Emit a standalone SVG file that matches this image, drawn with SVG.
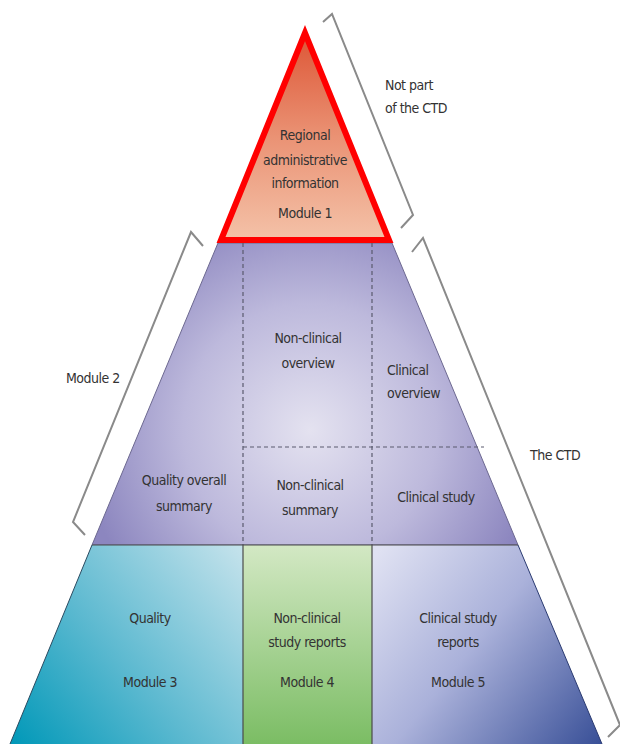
<svg xmlns="http://www.w3.org/2000/svg" width="620" height="744" viewBox="0 0 620 744">
<defs>
<linearGradient id="gRed" x1="0" y1="0" x2="0" y2="1">
<stop offset="0" stop-color="#dd5535"/>
<stop offset="0.5" stop-color="#ea9274"/>
<stop offset="1" stop-color="#f4c2a8"/>
</linearGradient>
<radialGradient id="gPurple" cx="310" cy="430" r="230" gradientUnits="userSpaceOnUse">
<stop offset="0" stop-color="#e4e2f0"/>
<stop offset="0.55" stop-color="#bdb9dc"/>
<stop offset="1" stop-color="#8c86bf"/>
</radialGradient>
<linearGradient id="gTeal" x1="10" y1="744" x2="243" y2="545" gradientUnits="userSpaceOnUse">
<stop offset="0" stop-color="#0098b8"/>
<stop offset="0.45" stop-color="#5cb9d0"/>
<stop offset="1" stop-color="#c6e3ec"/>
</linearGradient>
<linearGradient id="gGreen" x1="0" y1="0" x2="0" y2="1">
<stop offset="0" stop-color="#d3e8c4"/>
<stop offset="1" stop-color="#7bbd64"/>
</linearGradient>
<linearGradient id="gBlue" x1="372" y1="560" x2="602" y2="744" gradientUnits="userSpaceOnUse">
<stop offset="0" stop-color="#dfe1f2"/>
<stop offset="0.45" stop-color="#aab1da"/>
<stop offset="1" stop-color="#384f97"/>
</linearGradient>
<style>
.t{font-family:"Liberation Sans Narrow","DejaVu Sans Condensed","Liberation Sans",sans-serif;font-size:14px;letter-spacing:-0.5px;fill:#333;text-anchor:middle}
.l{text-anchor:start}
.br{fill:none;stroke:#8a8a8a;stroke-width:2;stroke-linejoin:miter}
.dash{stroke:#5a5a6e;stroke-width:1.2;stroke-dasharray:4 3;fill:none}
.div{stroke:#4a4a4a;stroke-width:1.2;fill:none}
</style>
</defs>

<g id="module2">
<polygon points="218,243 392,243 518,545 92,545" fill="url(#gPurple)" stroke="#6c6890" stroke-width="1"/>
<line class="dash" x1="243" y1="243" x2="243" y2="545"/>
<line class="dash" x1="372" y1="243" x2="372" y2="545"/>
<line class="dash" x1="243" y1="447" x2="484" y2="447"/>
<text class="t" x="308" y="343">Non-clinical</text>
<text class="t" x="308" y="368">overview</text>
<text class="t l" x="387" y="375">Clinical</text>
<text class="t l" x="387" y="398">overview</text>
<text class="t" x="184" y="485">Quality overall</text>
<text class="t" x="184" y="511">summary</text>
<text class="t" x="310" y="490">Non-clinical</text>
<text class="t" x="310" y="515">summary</text>
<text class="t" x="436" y="502">Clinical study</text>
</g>

<g id="module3">
<polygon points="92,545 243,545 243,744 10,744" fill="url(#gTeal)"/>
<text class="t" x="150" y="623">Quality</text>
<text class="t" x="150" y="687">Module 3</text>
</g>

<g id="module4">
<rect x="243" y="545" width="129" height="199" fill="url(#gGreen)"/>
<text class="t" x="307" y="623">Non-clinical</text>
<text class="t" x="307" y="647">study reports</text>
<text class="t" x="307" y="687">Module 4</text>
</g>

<g id="module5">
<polygon points="372,545 518,545 602,744 372,744" fill="url(#gBlue)"/>
<text class="t" x="458" y="623">Clinical study</text>
<text class="t" x="458" y="647">reports</text>
<text class="t" x="458" y="687">Module 5</text>
</g>

<g id="dividers">
<line class="div" x1="92" y1="545" x2="518" y2="545"/>
<line class="div" x1="243" y1="545" x2="243" y2="744"/>
<line class="div" x1="372" y1="545" x2="372" y2="744"/>
<polyline points="92,545 10,744" fill="none" stroke="#2a4a60" stroke-width="1"/>
<polyline points="518,545 602,744" fill="none" stroke="#2a3a70" stroke-width="1"/>
</g>

<g id="module1">
<polygon points="305,33 221,240 389,240" fill="url(#gRed)" stroke="#ff0000" stroke-width="6" stroke-linejoin="miter"/>
<text class="t" x="305" y="140">Regional</text>
<text class="t" x="305" y="165">administrative</text>
<text class="t" x="305" y="188">information</text>
<text class="t" x="305" y="218">Module 1</text>
</g>

<g id="connectors">
<polyline class="br" points="323,22 332,14 413,215 401,228"/>
<polyline class="br" points="203,246 191,232 73,522 85,535"/>
<polyline class="br" points="412,252 423,238 620,725 608,737"/>
</g>

<g id="labels">
<text class="t l" x="385" y="90">Not part</text>
<text class="t l" x="385" y="113">of the CTD</text>
<text class="t l" x="66" y="383">Module 2</text>
<text class="t l" x="530" y="460">The CTD</text>
</g>
</svg>
